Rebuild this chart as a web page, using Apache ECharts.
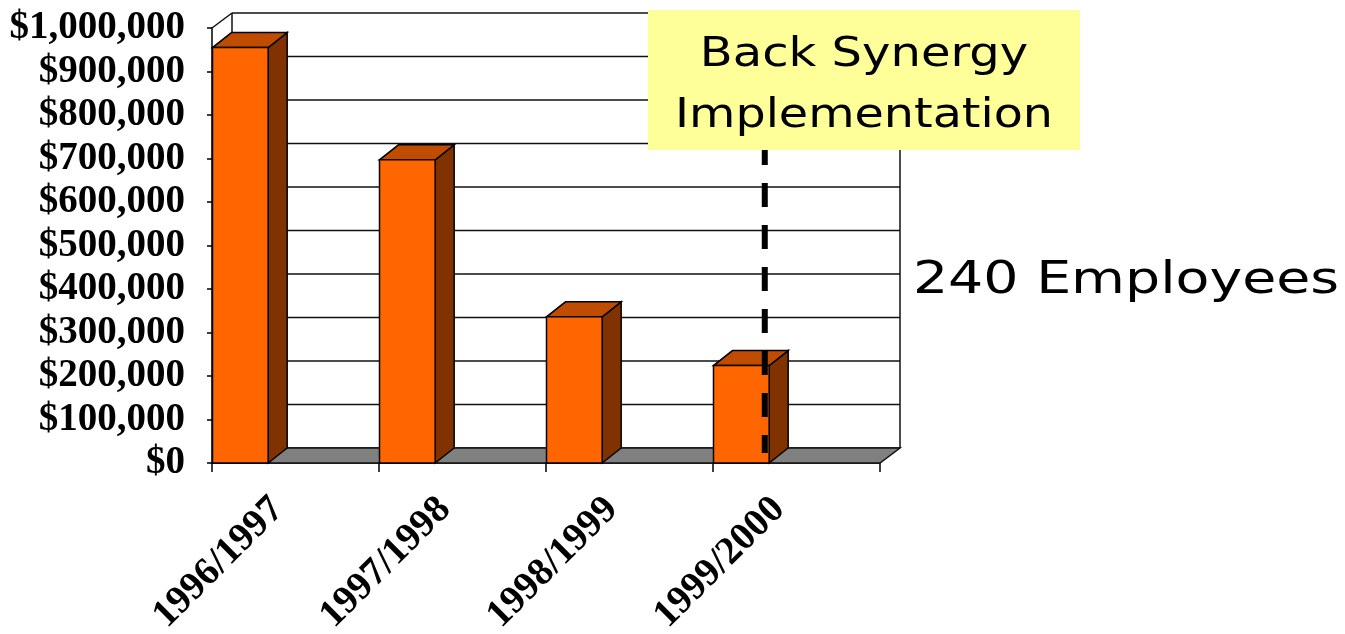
<!DOCTYPE html>
<html>
<head>
    <meta charset="utf-8">
    <title>Back Synergy</title>
    <script src="https://cdn.jsdelivr.net/npm/echarts@6/dist/echarts.min.js"></script>
    <style>html, body { margin: 0; padding: 0; background: #fff; }</style>
</head>
<body>
    <div id="main" style="width: 1345px;height:634px;"></div>
    <script type="text/javascript">
        // 数据
        var categories = ['1996/1997', '1997/1998', '1998/1999', '1999/2000'];
        var costValues = [955000, 697000, 336000, 224000];
        var yMin = 0;
        var yMax = 1000000;
        var yStep = 100000;
        var markerCategory = 3; // Back Synergy 实施的年份
        var boxLines = ['Back Synergy', 'Implementation'];
        var sideNote = '240 Employees';

        // 3D 深度偏移
        var DX = 20, DY = -15;
        var LINE = '#111';

        function line(x1, y1, x2, y2, w) {
            return {
                type: 'line',
                shape: { x1: x1, y1: y1, x2: x2, y2: y2 },
                style: { stroke: LINE, lineWidth: w || 1.5 }
            };
        }

        // 背墙、侧墙、地板
        function renderWall(params, api) {
            var cs = params.coordSys;
            var left = cs.x, right = cs.x + cs.width, bottom = cs.y + cs.height;
            var children = [];
            for (var v = yMin; v <= yMax; v += yStep) {
                var y = api.coord([0, v])[1];
                children.push(line(left + DX, y + DY, right + DX, y + DY));
                children.push(line(left, y, left + DX, y + DY));
            }
            children.push(line(left + DX, cs.y + DY, left + DX, bottom + DY));
            children.push(line(right + DX, cs.y + DY, right + DX, bottom + DY));
            children.push({
                type: 'polygon',
                shape: { points: [[left, bottom], [right, bottom], [right + DX, bottom + DY], [left + DX, bottom + DY]] },
                style: { fill: '#808080', stroke: LINE, lineWidth: 1.5 }
            });
            return { type: 'group', children: children };
        }

        // 立体柱子
        function renderBar(params, api) {
            var i = api.value(0), v = api.value(1);
            var base = api.coord([i, 0]);
            var top = api.coord([i, v]);
            var slot = api.size([1, 0])[0];
            var x0 = base[0] - slot / 2 + 0.5;
            var w = slot / 3;
            var dx = 19, t = top[1], b = base[1];
            return {
                type: 'group',
                children: [
                    {
                        type: 'polygon',
                        shape: { points: [[x0 + w, t], [x0 + w + dx, t + DY], [x0 + w + dx, b + DY], [x0 + w, b]] },
                        style: { fill: '#803300', stroke: '#000', lineWidth: 1.5 }
                    },
                    {
                        type: 'polygon',
                        shape: { points: [[x0, t], [x0 + w, t], [x0 + w + dx, t + DY], [x0 + dx, t + DY]] },
                        style: { fill: '#C04C00', stroke: '#000', lineWidth: 1.5 }
                    },
                    {
                        type: 'rect',
                        shape: { x: x0, y: t, width: w, height: b - t },
                        style: { fill: '#FF6600', stroke: '#000', lineWidth: 1.5 }
                    }
                ]
            };
        }

        // 实施时间的虚线
        function renderMarker(params, api) {
            var i = api.value(0);
            var base = api.coord([i, 0]);
            var top = api.coord([i, yMax]);
            var slot = api.size([1, 0])[0];
            var x = base[0] - slot / 2 + slot * 0.31;
            return {
                type: 'line',
                shape: { x1: x, y1: top[1] + 113, x2: x, y2: base[1] - 10 },
                style: { stroke: '#000', lineWidth: 6, lineDash: [24, 18] }
            };
        }

        var chart = echarts.init(document.getElementById('main'));
        var option = {
            animation: false,
            grid: { left: 212, top: 28, width: 668, height: 435, containLabel: false, outerBoundsMode: 'none' },
            xAxis: {
                type: 'category',
                data: categories,
                boundaryGap: true,
                axisLine: { lineStyle: { color: '#000', width: 1.5 } },
                axisTick: { show: true, interval: 0, length: 9, lineStyle: { color: '#000', width: 1.5 } },
                axisLabel: {
                    interval: 0,
                    rotate: 45,
                    margin: 23,
                    padding: [0, 25, 0, 0],
                    color: '#000',
                    fontFamily: 'Liberation Serif',
                    fontWeight: 'bold',
                    fontSize: 39
                }
            },
            yAxis: {
                type: 'value',
                min: yMin,
                max: yMax,
                interval: yStep,
                axisLine: { show: true, lineStyle: { color: '#000', width: 1.5 } },
                axisTick: { show: true, length: 5, lineStyle: { color: '#000', width: 1.5 } },
                splitLine: { show: false },
                axisLabel: {
                    margin: 27,
                    padding: [6, 0, 0, 0],
                    color: '#000',
                    fontFamily: 'Liberation Serif',
                    fontWeight: 'bold',
                    fontSize: 39,
                    formatter: function (v) {
                        return '$' + String(v).replace(/\B(?=(\d{3})+(?!\d))/g, ',');
                    }
                }
            },
            series: [
                {
                    type: 'custom',
                    z: 1,
                    renderItem: renderWall,
                    data: [[0, 0]],
                    silent: true
                },
                {
                    type: 'custom',
                    z: 2,
                    renderItem: renderBar,
                    encode: { x: 0, y: 1 },
                    data: costValues.map(function (v, i) { return [i, v]; })
                },
                {
                    type: 'custom',
                    z: 3,
                    renderItem: renderMarker,
                    data: [[markerCategory, 0]]
                }
            ],
            graphic: [
                {
                    type: 'rect', z: 10,
                    shape: { x: 648, y: 10, width: 432, height: 140 },
                    style: { fill: '#FFFF99' }
                },
                {
                    type: 'text', z: 11, x: 864, y: 56, scaleX: 1.2,
                    style: { text: boxLines[0], fill: '#000', font: '40px "DejaVu Sans"', textAlign: 'center', textVerticalAlign: 'middle' }
                },
                {
                    type: 'text', z: 11, x: 864, y: 117, scaleX: 1.19,
                    style: { text: boxLines[1], fill: '#000', font: '40px "DejaVu Sans"', textAlign: 'center', textVerticalAlign: 'middle' }
                },
                {
                    type: 'text', z: 11, x: 1126, y: 281, scaleX: 1.23,
                    style: { text: sideNote, fill: '#000', font: '45px "DejaVu Sans"', textAlign: 'center', textVerticalAlign: 'middle' }
                }
            ]
        };
        chart.setOption(option);
    </script>
</body>
</html>
